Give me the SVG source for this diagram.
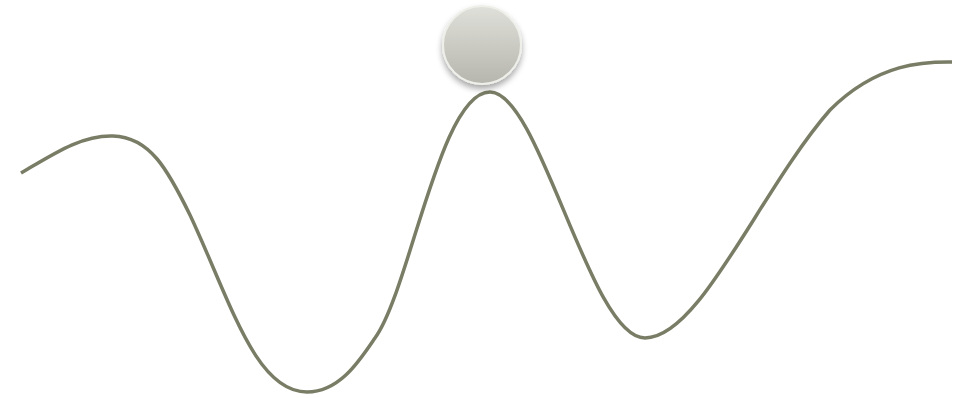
<svg xmlns="http://www.w3.org/2000/svg" width="964" height="398" viewBox="0 0 964 398">
<defs>
<linearGradient id="ballG" x1="0" y1="0" x2="0" y2="1">
<stop offset="0" stop-color="#e0e0da"/>
<stop offset="1" stop-color="#b6b6ae"/>
</linearGradient>
<filter id="sh" x="-40%" y="-40%" width="180%" height="190%">
<feGaussianBlur in="SourceAlpha" stdDeviation="3"/>
<feOffset dy="4"/>
<feComponentTransfer><feFuncA type="linear" slope="0.35"/></feComponentTransfer>
<feMerge><feMergeNode/><feMergeNode in="SourceGraphic"/></feMerge>
</filter>
<style>
.wave{fill:none;stroke:#7a7d65;stroke-width:3.5;stroke-linecap:butt;stroke-linejoin:round}
.ball{fill:url(#ballG);stroke:#efefea;stroke-width:2}
</style>
</defs>
<rect width="964" height="398" fill="#ffffff"/>
<g id="curve">
<path class="wave" d="M21,173 C55,153 82,135 113,136 C150,137 168,170 190,215 C230,300 255,392 307,392 C340,392 360,360 375,338 C410,290 440,92 490,92 C540,92 590,338 645,338 C700,338 760,190 830,110 C880,60 930,62 952,62"/>
</g>
<g id="ball">
<circle class="ball" cx="482" cy="45" r="39" filter="url(#sh)"/>
</g>
</svg>
